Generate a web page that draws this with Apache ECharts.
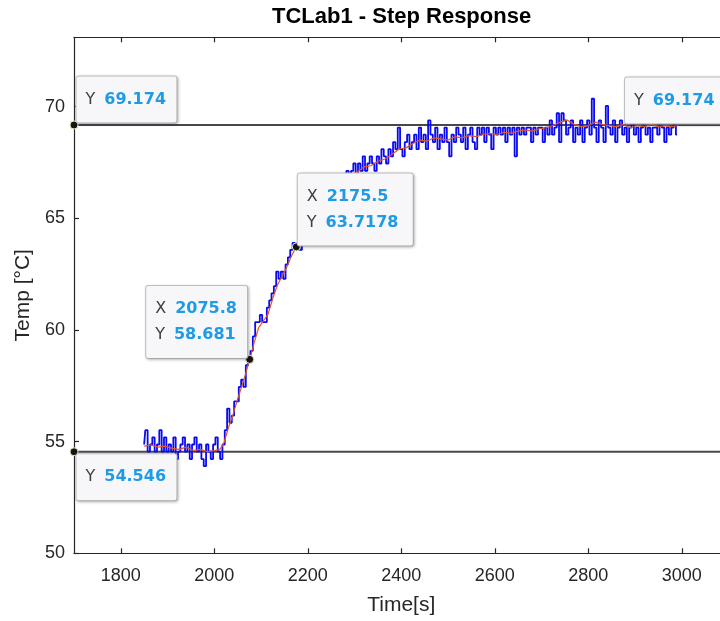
<!DOCTYPE html>
<html>
<head>
<meta charset="utf-8">
<script src="https://cdn.jsdelivr.net/npm/echarts@6/dist/echarts.min.js"></script>
<style>
  html, body { margin: 0; padding: 0; background: #ffffff; }
  #chart { width: 720px; height: 621px; }
</style>
</head>
<body>
<div id="chart"></div>
<script>
// Measured heater temperature, sampled every 5 s from t = 1850 s
const sampleStart = 1850;
const sampleStep = 5;
const measuredTemp = [
  54.87, 55.51, 54.55, 54.87, 55.19, 54.55, 54.87, 55.51, 54.55, 55.19,
  54.55, 54.87, 54.55, 55.19, 54.22, 54.55, 54.87, 55.19, 54.55, 54.87,
  54.22, 54.87, 55.19, 54.55, 54.87, 54.22, 53.90, 54.87, 54.55, 54.22,
  54.87, 55.19, 54.55, 54.22,
  54.87, 55.51, 56.48, 55.84, 56.16, 56.80, 56.80, 57.45, 57.77, 57.45,
  58.42, 58.74, 59.06, 59.71, 60.35, 60.35, 60.67, 60.35, 60.35, 61.00,
  61.32, 61.64, 61.96, 62.61, 62.29, 62.61, 62.29, 62.93, 63.25, 63.58,
  63.90, 63.58, 63.90, 63.58, 63.90, 64.22, 64.54, 64.54, 64.87, 65.19,
  64.87, 65.51, 65.51, 65.83, 65.83, 66.16, 66.16, 66.48, 66.16, 66.80,
  66.48, 66.80,
  66.80, 67.12, 66.80, 67.12, 67.45, 66.80, 67.45, 67.12, 67.77, 67.12,
  67.45, 67.77, 67.45, 67.12, 67.77, 67.45, 68.09, 67.77, 67.45, 68.09,
  67.77, 68.41, 68.09, 69.06, 68.09, 67.77, 68.41, 68.74, 68.09, 68.41,
  68.74, 68.09, 69.06, 68.41, 68.74, 68.09, 69.38, 68.74, 68.41, 69.06,
  68.09, 68.74, 68.41, 69.06, 68.41, 67.77, 68.74, 68.41, 69.06, 68.74,
  68.41, 69.06, 68.09, 68.74, 69.06, 68.41, 68.09, 69.06, 68.74, 69.06,
  68.41, 69.06, 68.74, 68.09, 69.06, 68.74, 69.06, 68.74, 69.06, 68.41,
  69.06, 68.74, 69.06, 67.77, 69.06, 68.74, 69.06, 68.74, 69.06, 69.06,
  68.41, 69.06, 68.74, 69.06, 69.06, 68.41, 69.06, 68.74, 69.38, 68.74,
  69.06, 69.70, 68.41, 69.70, 69.38, 68.74, 69.06, 69.38, 68.41, 69.06,
  68.74, 69.38, 68.41, 69.06, 69.38, 68.74, 70.35, 69.06, 68.41, 69.38,
  69.06, 68.41, 70.03, 69.06, 68.74, 69.38, 68.41, 69.06, 69.38, 68.74,
  69.06, 68.41, 69.06, 69.38, 68.74, 69.06, 68.41, 69.06, 69.38, 68.74,
  69.06, 68.41, 69.06, 69.06, 68.74, 69.38, 69.06, 68.41, 69.06, 68.74,
  69.06, 69.38, 68.74
];

// Filtered / model temperature
const modelTime = [
  1850, 1865, 1880, 1895, 1910, 1925, 1940, 1955, 1970, 1985,
  2000, 2012, 2020, 2030, 2040, 2050, 2060, 2068, 2075.8, 2085,
  2095, 2105, 2115, 2125, 2135, 2145, 2155, 2165, 2175.5, 2190,
  2210, 2230, 2250, 2270, 2290, 2305, 2320, 2335, 2350, 2365,
  2380, 2395, 2410, 2425, 2440, 2455, 2470, 2485, 2500, 2515,
  2530, 2545, 2560, 2575, 2590, 2605, 2620, 2635, 2650, 2665,
  2680, 2695, 2710, 2725, 2740, 2755, 2770, 2785, 2800, 2815,
  2830, 2845, 2860, 2875, 2890, 2905, 2920, 2935, 2950, 2965,
  2980, 2992
];
const modelTemp = [
  54.80, 54.85, 54.75, 54.80, 54.70, 54.65, 54.75, 54.60, 54.65, 54.55,
  54.60, 54.65, 54.90, 55.60, 56.20, 56.90, 57.55, 58.10, 58.681, 59.40,
  60.10, 60.40, 60.70, 61.40, 62.00, 62.40, 62.80, 63.30, 63.7178, 64.10,
  64.80, 65.50, 66.05, 66.55, 66.95, 67.05, 67.30, 67.35, 67.55, 67.65,
  67.85, 68.10, 68.15, 68.35, 68.50, 68.45, 68.60, 68.55, 68.50, 68.65,
  68.60, 68.70, 68.65, 68.75, 68.80, 68.75, 68.85, 68.80, 68.90, 68.95,
  68.90, 69.00, 69.05, 69.15, 69.30, 69.40, 69.20, 69.10, 69.15, 69.30,
  69.20, 69.15, 69.10, 69.20, 69.05, 69.15, 69.10, 69.20, 69.10, 69.15,
  69.10, 69.15
];

// Steady-state reference levels (initial and final)
const refLevels = [69.174, 54.546];

// Data tips
const tipX = [1700, 1700, 2075.8, 2175.5, 3100];
const tipY = [69.174, 54.546, 58.681, 63.7178, 69.174];
const tipShowX = [false, false, true, true, false];

// Axis extents and tick values
const xRange = [1700, 3100];
const yRange = [50, 73.1];
const xTicks = [1800, 2000, 2200, 2400, 2600, 2800, 3000];
const yTicks = [50, 55, 60, 65, 70];

// Offset of each tip box's top-left corner from its marker box, and box content width
const tipLayout = [
  { position: [7, -44], width: 81 },
  { position: [7, 7],   width: 81 },
  { position: [-99, -69], width: 82 },
  { position: [6, -69], width: 96 },
  { position: [-99, -43], width: 81 }
];

const FONT = '"Liberation Sans", Arial, Helvetica, sans-serif';
const TIP_FONT = '"DejaVu Sans", Verdana, sans-serif';
const AXIS_COLOR = '#262626';

const measuredData = measuredTemp.map((v, i) => [sampleStart + i * sampleStep, v]);
const modelData = modelTime.map((t, i) => [t, modelTemp[i]]);

const tipData = tipX.map((x, i) => {
  const lines = [];
  if (tipShowX[i]) lines.push('{k|X}{v|' + x + '}');
  lines.push('{k|Y}{v|' + tipY[i] + '}');
  const lay = tipLayout[i];
  return {
    value: [x, tipY[i]],
    label: {
      position: lay.position,
      align: 'left',
      verticalAlign: 'top',
      width: lay.width,
      formatter: lines.join('\n')
    }
  };
});

const refSeries = refLevels.map(level => ({
  type: 'line',
  data: [[xRange[0], level], [xRange[1], level]],
  symbol: 'none',
  silent: true,
  lineStyle: { color: '#484848', width: 2 },
  z: 1
}));

const plainNumber = v => String(v);

const chart = echarts.init(document.getElementById('chart'), null, { renderer: 'canvas' });

chart.setOption({
  animation: false,
  backgroundColor: '#ffffff',
  title: {
    text: 'TCLab1 - Step Response',
    left: 272,
    top: 1,
    padding: [5, 0, 5, 0],
    textStyle: { fontFamily: FONT, fontSize: 22, fontWeight: 'bold', color: '#000000' }
  },
  grid: {
    left: 74, top: 37.3, width: 654.5, height: 516,
    containLabel: false, outerBoundsMode: 'none'
  },
  xAxis: [
    {
      type: 'value',
      min: xRange[0],
      max: xRange[1],
      position: 'bottom',
      axisLine: { show: true, onZero: false, lineStyle: { color: AXIS_COLOR, width: 1.2 } },
      axisTick: { show: true, inside: true, length: 5, customValues: xTicks,
                  lineStyle: { color: AXIS_COLOR, width: 1.2 } },
      axisLabel: { customValues: xTicks, formatter: plainNumber, fontFamily: FONT,
                   fontSize: 18, color: AXIS_COLOR, margin: 14 },
      splitLine: { show: false },
      name: 'Time[s]',
      nameLocation: 'middle',
      nameGap: 41,
      nameTextStyle: { fontFamily: FONT, fontSize: 21, color: AXIS_COLOR }
    },
    {
      type: 'value',
      min: xRange[0],
      max: xRange[1],
      position: 'top',
      axisLine: { show: true, onZero: false, lineStyle: { color: AXIS_COLOR, width: 1.2 } },
      axisTick: { show: true, inside: true, length: 5, customValues: xTicks,
                  lineStyle: { color: AXIS_COLOR, width: 1.2 } },
      axisLabel: { show: false },
      splitLine: { show: false }
    }
  ],
  yAxis: {
    type: 'value',
    min: yRange[0],
    max: yRange[1],
    axisLine: { show: true, onZero: false, lineStyle: { color: AXIS_COLOR, width: 1.2 } },
    axisTick: { show: true, inside: true, length: 5, customValues: yTicks,
                lineStyle: { color: AXIS_COLOR, width: 1.2 } },
    axisLabel: { customValues: yTicks, formatter: plainNumber, fontFamily: FONT,
                 fontSize: 18, color: AXIS_COLOR, margin: 9 },
    splitLine: { show: false },
    name: 'Temp [°C]',
    nameLocation: 'middle',
    nameGap: 37,
    nameRotate: 90,
    nameTextStyle: { fontFamily: FONT, fontSize: 21, color: AXIS_COLOR }
  },
  series: [
    ...refSeries,
    {
      type: 'line',
      name: 'measured',
      data: measuredData,
      step: 'middle',
      symbol: 'none',
      lineStyle: { color: '#0a0af0', width: 1.8 },
      z: 2
    },
    {
      type: 'line',
      name: 'model',
      data: modelData,
      symbol: 'none',
      lineStyle: { color: '#e2552c', width: 1.2 },
      z: 3
    },
    {
      type: 'scatter',
      data: tipData,
      symbol: 'circle',
      symbolSize: 8,
      itemStyle: { color: '#141414', borderColor: '#e9e9c4', borderWidth: 1, opacity: 1 },
      z: 10,
      label: {
        show: true,
        backgroundColor: '#f7f7fa',
        borderColor: '#c4c4c4',
        borderWidth: 1,
        borderRadius: 2,
        padding: [10, 10, 10, 9],
        lineHeight: 26,
        shadowColor: 'rgba(0,0,0,0.22)',
        shadowBlur: 3,
        shadowOffsetX: 1,
        shadowOffsetY: 1,
        rich: {
          k: { fontFamily: TIP_FONT, fontSize: 16, color: '#404040', lineHeight: 26 },
          v: { fontFamily: TIP_FONT, fontSize: 16, fontWeight: 'bold', color: '#1f9ae6',
               lineHeight: 26, padding: [0, 0, 0, 9] }
        }
      }
    }
  ]
});
</script>
</body>
</html>
